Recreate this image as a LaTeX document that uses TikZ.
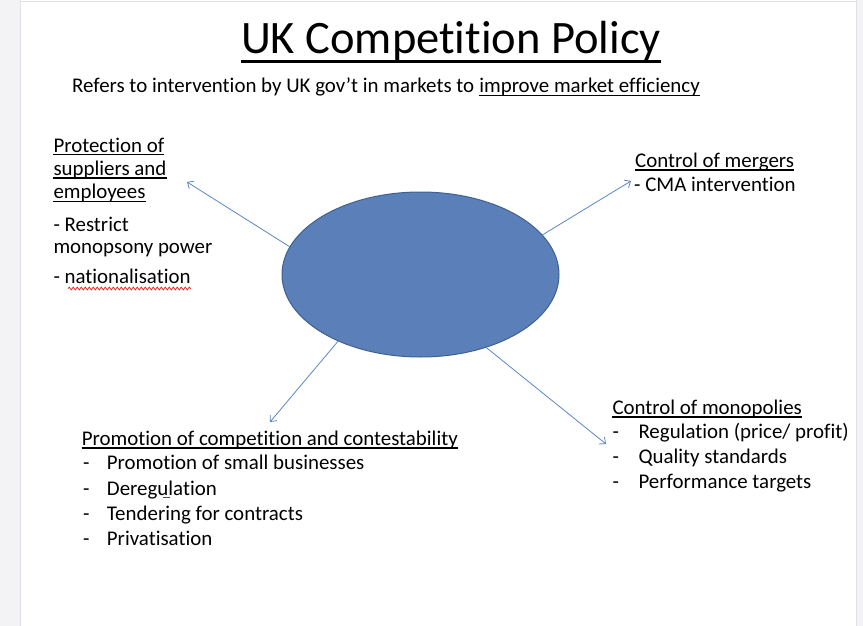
\documentclass[tikz,border=0pt]{standalone}
\usepackage{fontspec}
\setmainfont{Carlito}[Ligatures={NoCommon,NoContextual},RawFeature={-liga;-clig;-calt;-dlig}]
\usetikzlibrary{shapes.geometric,arrows.meta,decorations.pathmorphing}
\definecolor{ellfill}{HTML}{5A7FB9}
\definecolor{elldraw}{HTML}{3F6190}
\definecolor{arr}{HTML}{5A86C4}
\definecolor{side}{HTML}{F3F3F5}
\definecolor{sideline}{HTML}{E2E2E6}
\definecolor{wavy}{HTML}{E0302A}
\begin{document}
\begin{tikzpicture}[x=1pt,y=-1pt,
  txt/.style={inner sep=0pt, anchor=base west, font=\fontsize{20.9}{24}\selectfont},
  subtxt/.style={inner sep=0pt, anchor=base west, font=\fontsize{20.9}{24}\selectfont},
  ul/.style={line width=1.4pt},
  conn/.style={draw=arr, line width=0.8pt, -{Straight Barb[length=5pt,width=9pt]}}]
\useasboundingbox (0,0) rectangle (863,626);
\fill[side] (0,0) rectangle (20,626);
\fill[side] (857,0) rectangle (863,626);
\draw[sideline] (20.5,0) -- (20.5,626);
\draw[sideline] (856.5,0) -- (856.5,626);
\draw[sideline] (20,1) -- (857,1);

% title
\node[inner sep=0pt, anchor=base, font=\fontsize{46.5}{50}\selectfont] (title) at (451,53.5) {UK Competition Policy};
\draw[line width=3pt] ([yshift=-8.5pt]title.base west) -- ([yshift=-8.5pt]title.base east);

% subtitle
\node[subtxt] (sub1) at (72,92.5) {Refers to intervention by UK gov’t in markets to};
\node[subtxt] (sub2) at ([xshift=4.7pt]sub1.base east) {improve market efficiency\hspace{5pt}};
\draw[ul] ([yshift=-3pt]sub2.base west) -- ([yshift=-3pt]sub2.base east);

% ellipse
\node[ellipse, fill=ellfill, draw=elldraw, line width=1pt, minimum width=277pt, minimum height=165pt, inner sep=0pt] (ell) at (420.5,274.5) {};

% left block
\node[txt] (pa) at (53.3,152) {Protection of};
\node[txt] (pb) at (53.3,175.3) {suppliers and};
\node[txt] (pc) at (53.3,198.6) {employees};
\foreach \n in {pa,pb,pc}{\draw[ul] ([yshift=-2.7pt]\n.base west) -- ([yshift=-2.7pt]\n.base east);}
\node[txt] (pd) at (53.3,231) {- Restrict};
\node[txt] (pe) at (53.3,253.6) {monopsony power};
\node[txt] (pf) at (53.3,283) {- nationalisation};
\coordinate (pfw) at (68,288.5);
\draw[wavy, line width=0.8pt, decorate, decoration={snake, amplitude=1.4pt, segment length=4pt}] (pfw) -- ([yshift=-5.5pt]pf.base east);
\coordinate (tipUL) at (187,182);

% right top block
\node[txt] (ma) at (635,167) {Control of mergers};
\draw[ul] ([yshift=-3pt]ma.base west) -- ([yshift=-3pt]ma.base east);
\node[txt] (mb) at (634,191) {- CMA intervention};
\coordinate (tipUR) at (631,181);

% bottom left block
\node[txt] (ca) at (81.7,445) {Promotion of competition and contestability};
\draw[ul] ([yshift=-3pt]ca.base west) -- ([yshift=-3pt]ca.base east);
\foreach \t/\yy/\nm in {{Promotion of small businesses}/469.3/cb, {Deregulation}/495/cc, {Tendering for contracts}/520/cd, {Privatisation}/545/ce}{
  \node[txt] (\nm d) at (83,\yy) {-};
  \node[txt] (\nm) at (106.7,\yy) {\t};
}
\coordinate (duA) at (163,497.5);
\coordinate (duB) at (170,497.5);
\draw[line width=0.8pt, black!70] (duA) -- (duB);
\coordinate (tipLL) at (270,422);

% bottom right block
\node[txt] (ra) at (612.3,414) {Control of monopolies};
\draw[ul] ([yshift=-3pt]ra.base west) -- ([yshift=-3pt]ra.base east);
\foreach \t/\yy/\nm in {{Regulation (price/ profit)}/438.6/rb, {Quality standards}/463.6/rc, {Performance targets}/488.6/rd}{
  \node[txt] (\nm d) at (612.3,\yy) {-};
  \node[txt] (\nm) at (638.3,\yy) {\t};
}
\coordinate (tipLR) at (606,444);

% connectors
\draw[conn] (ell.168.7) -- (tipUL);
\draw[conn] (ell.18.3) -- (tipUR);
\draw[conn] (ell.219.4) -- (tipLL);
\draw[conn] (ell.312.6) -- (tipLR);
\end{tikzpicture}
\end{document}
